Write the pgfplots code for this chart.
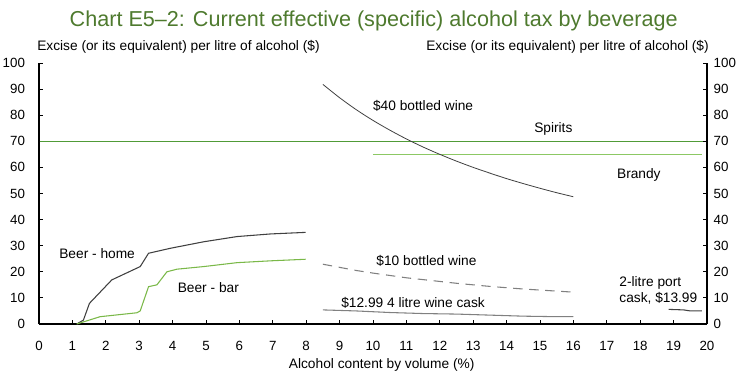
\documentclass[border=0pt]{standalone}
\usepackage{pgfplots}
\pgfplotsset{compat=1.18}
\usepackage{fontspec}
\setmainfont{Liberation Sans}
\definecolor{titlegreen}{RGB}{78,122,46}
\definecolor{spiritsgreen}{RGB}{80,155,55}
\definecolor{brandygreen}{RGB}{140,200,100}
\definecolor{beerbar}{RGB}{122,184,72}
\definecolor{darkgrey}{RGB}{64,64,64}
\definecolor{midgrey}{RGB}{128,128,128}
\begin{document}
\begin{tikzpicture}[font=\fontsize{10.3}{12}\selectfont]
\useasboundingbox (-29.25pt,-48pt) rectangle (525.75pt,243pt);
\pgfplotsset{every axis/.append style={
  scale only axis, width=501pt, height=195.75pt,
  xmin=0, xmax=20, ymin=0, ymax=100,
  ytick={0,10,...,100},
  tick align=inside, major tick length=3pt,
  axis line style={black, line width=0.8pt, -},
  tick style={black, line width=0.6pt},
  /pgf/number format/assume math mode=true,
  ticklabel style={font=\fontsize{10}{12}\selectfont},
  clip=false,
}}
\begin{axis}[at={(0,0)}, anchor=south west,
  axis x line*=bottom, axis y line*=left,
  xtick={0,...,20},
  xticklabel style={yshift=-9.5pt},
  yticklabel style={xshift=-7pt},
]
% Spirits
\addplot[draw=spiritsgreen, line width=1pt, mark=none] coordinates {(0.02,70) (10,70) (19.98,70)};
% Brandy
\addplot[draw=brandygreen, line width=1pt, mark=none] coordinates {(10,65) (19.85,65)};
% $40 bottled wine
\addplot[darkgrey, line width=0.6pt, smooth] coordinates {
(8.5,91.8) (9,86.7) (9.5,82.1) (10,78.0) (10.5,74.3) (11,70.9) (11.5,67.8)
(12,65.0) (12.5,62.4) (13,60.0) (13.5,57.8) (14,55.7) (14.5,53.8) (15,52.0)
(15.5,50.3) (16,48.75)};
% $10 bottled wine
\addplot[midgrey, line width=0.8pt, dash pattern=on 7pt off 5pt] coordinates {
(8.5,22.9) (9,21.7) (9.5,20.5) (10,19.5) (10.5,18.6) (11,17.7) (11.5,17.0)
(12,16.3) (12.5,15.6) (13,15.0) (13.5,14.4) (14,13.9) (14.5,13.4) (15,13.0)
(15.5,12.6) (16,12.2)};
% $12.99 4 litre wine cask
\addplot[midgrey, line width=0.8pt] coordinates {
(8.5,5.4) (9.5,5.0) (10.5,4.4) (11.5,4.0) (12.5,3.8) (13.5,3.4) (14.5,3.0) (15.5,2.8) (16,2.8)};
% 2-litre port cask
\addplot[darkgrey, line width=0.8pt] coordinates {(18.85,5.6) (19.3,5.4) (19.5,5.0) (19.85,5.0)};
% Beer - home
\addplot[darkgrey, line width=0.8pt] coordinates {
(1.13,0) (1.33,1.5) (1.51,7.9) (2.18,16.9) (3.03,22) (3.28,27.1) (3.93,29)
(4.93,31.5) (5.93,33.5) (6.93,34.5) (7.98,35.1)};
% Beer - bar
\addplot[beerbar, line width=0.8pt] coordinates {
(1.13,0) (1.83,2.8) (2.93,4.3) (3.03,5) (3.28,14.3) (3.53,15) (3.83,20)
(4.13,21) (4.93,22) (5.93,23.5) (6.93,24.2) (7.98,24.8)};
\node at (axis cs:1.74,26.8) {Beer - home};
\node at (axis cs:5.07,13.8) {Beer - bar};
\node at (axis cs:11.5,83.5) {\$40 bottled wine};
\node at (axis cs:15.4,74.7) {Spirits};
\node at (axis cs:17.96,57) {Brandy};
\node at (axis cs:11.6,24.1) {\$10 bottled wine};
\node at (axis cs:11.2,8) {\$12.99 4 litre wine cask};
\node[anchor=east, align=left] at (axis cs:19.85,13) {2-litre port\\cask, \$13.99};
\end{axis}
\begin{axis}[at={(0,0)}, anchor=south west,
  axis x line=none, axis y line*=right,
  yticklabel style={xshift=1.5pt},
]
\addplot[draw=none, mark=none] coordinates {(0,0)};
\end{axis}
\node[text=titlegreen, font=\fontsize{16.2}{19}\selectfont] at (251pt,227.6pt) {Chart E5--2: Current effective (specific) alcohol tax by beverage};
\node[anchor=west, inner sep=0pt] at (-1.5pt,207.75pt) {Excise (or its equivalent) per litre of alcohol (\$)};
\node[anchor=east, inner sep=0pt] at (502.5pt,207.75pt) {Excise (or its equivalent) per litre of alcohol (\$)};
\node at (257pt,-30.75pt) {Alcohol content by volume (\%)};
\end{tikzpicture}
\end{document}
